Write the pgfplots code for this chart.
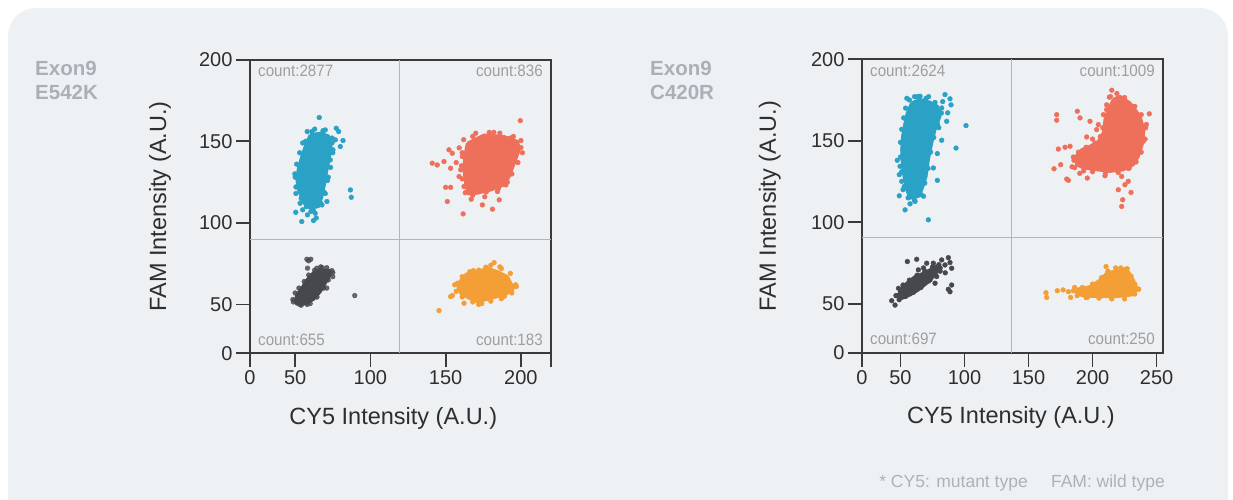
\documentclass[border=0pt]{standalone}
\usepackage{pgfplots}
\pgfplotsset{compat=1.18}
\usepackage{fontspec}
\setmainfont{Liberation Sans}
\newfontfamily\condfont[FakeStretch=0.92]{Liberation Sans}
\definecolor{panel}{HTML}{EEF1F4}
\definecolor{axc}{HTML}{3A3A3A}
\definecolor{labc}{HTML}{2E2E2E}
\definecolor{cntc}{HTML}{9E9E9E}
\definecolor{exonc}{HTML}{ABB0B8}
\definecolor{quadc}{HTML}{B5B5B5}
\definecolor{footc}{HTML}{AEB2B8}
\definecolor{cblue}{HTML}{2AA2C5}
\definecolor{cred}{HTML}{EE705B}
\definecolor{cgray}{HTML}{47484B}
\definecolor{corange}{HTML}{F49E36}

\tikzset{cnt/.style={font=\condfont\fontsize{16.5}{20}\selectfont, text=cntc, inner sep=0pt}}
\pgfplotsset{
  quadaxis/.style={
    scale only axis, width=301pt, height=293.5pt,
    ymin=20, ymax=200,
    axis line style={draw=axc, line width=1.7pt},
    every tick/.style={draw=axc, line width=1.7pt},
    major tick length=14pt,
    tick align=outside,
    xtick pos=bottom, ytick pos=left,
    ytick={20,50,100,150,200}, yticklabels={0,50,100,150,200},
    /pgf/number format/assume math mode=true,
    tick label style={font=\fontsize{20}{24}\selectfont, text=labc},
    xlabel={CY5 Intensity (A.U.)},
    ylabel={FAM Intensity (A.U.)},
    clip=true,
  },
  core/.style={draw=#1, fill=#1, line width=3pt, line join=round, mark=none},
  dots/.style={only marks, mark=*, mark size=2.4pt, color=#1, mark options={draw=#1, fill=#1}},
  quad/.style={draw=quadc, line width=0.9pt, mark=none},
}

\begin{document}
\begin{tikzpicture}
\path[use as bounding box] (0pt,0pt) rectangle (1233pt,-500pt);
\fill[white] (0pt,0pt) rectangle (1233pt,-500pt);
\begin{scope}
\clip (0pt,0pt) rectangle (1233pt,-500pt);
\fill[panel, rounded corners=28pt] (8pt,-8pt) rectangle (1228pt,-560pt);
\end{scope}

% labels
\node[anchor=base west, inner sep=0, text=exonc, font=\bfseries\fontsize{20.5}{24}\selectfont] at (35pt,-76pt) {Exon9};
\node[anchor=base west, inner sep=0, text=exonc, font=\bfseries\fontsize{20.5}{24}\selectfont] at (35pt,-100pt) {E542K};
\node[anchor=base west, inner sep=0, text=exonc, font=\bfseries\fontsize{20.5}{24}\selectfont] at (650pt,-76pt) {Exon9};
\node[anchor=base west, inner sep=0, text=exonc, font=\bfseries\fontsize{20.5}{24}\selectfont] at (650pt,-100pt) {C420R};
\node[anchor=base east, inner sep=0, text=footc, font=\fontsize{17.5}{21}\selectfont] at (1028pt,-487pt) {* CY5: mutant type};
\node[anchor=base east, inner sep=0, text=footc, font=\fontsize{17.5}{21}\selectfont] at (1165pt,-487pt) {FAM: wild type};

% ---------------- Plot 1 ----------------
\begin{axis}[quadaxis, at={(250pt,-353.3pt)}, anchor=south west,
  xmin=20, xmax=220,
  xtick={20,50,100,150,200}, xticklabels={0,50,100,150,200},
  extra x ticks={220}, extra x tick labels={}, extra x tick style={grid=none},
  every axis y label/.style={at={(axis description cs:-0.299,0.5)}, rotate=90, anchor=center, font=\fontsize{23.5}{28}\selectfont, text=labc},
  every axis x label/.style={at={(axis description cs:0.476,-0.221)}, anchor=center, font=\fontsize{23.5}{28}\selectfont, text=labc},
]
\addplot[quad] coordinates {(119,20) (119,200)};
\addplot[quad] coordinates {(20,90) (220,90)};

% blue (FAM+ / CY5-)
\addplot[core=cblue] coordinates {(60.0,154.0)(66.7,155.0)(72.2,153.3)(73.8,147.8)(72.9,140.7)(71.1,132.5)(69.6,124.3)(67.8,116.1)(65.6,110.0)(60.0,109.0)(56.0,112.0)(52.2,120.2)(51.1,127.4)(52.2,133.5)(54.4,140.7)(56.7,146.8)(60.0,154.0)};
\addplot[dots=cblue] coordinates {(58,156)(63,157.5)(68.5,156.5)(74.5,149)(75,143)(73.5,134)(71.5,126)(70,118)(67,112)(62,108)(57.5,110)(54,115)(50.5,122)(50,128)(51,136)(53,143)(55,149)};
\addplot[dots=cblue] coordinates {(66.0,164.6)(77.3,158.0)(78.9,156.0)(81.8,150.5)(80.0,146.8)(76.7,150.9)(75.1,144.8)(86.7,120.2)(87.3,115.7)(50.4,106.5)(54.4,100.8)(62.2,101.4)(58.2,104.9)(63.3,105.9)(67.8,111.0)(71.1,113.1)(53.3,112.0)(73.3,138.6)(61.1,156.0)(52.2,125.3)(74.5,152)(70,157)(57,150)(50.5,118)(55,108)(69,119)(72,128)(49.8,130)(64,103)(60.5,107)};

% red (double positive)
\addplot[core=cred] coordinates {(164.4,148.8)(175.6,153.9)(188.9,152.9)(197.8,149.9)(198.9,144.8)(195.6,136.6)(192.2,128.4)(188.9,123.3)(180.0,120.2)(171.1,118.2)(164.9,117.8)(163.3,124.3)(162.2,132.5)(162.7,140.7)(164.4,148.8)};
\addplot[dots=cred] coordinates {(162,151)(168,153)(179,155.5)(186,155)(195,153)(200,150.5)(201,143)(198,137)(194,130)(191,125)(185,121)(177,119)(168,117)(163,118.5)(161,127)(160.5,135)(161,143)};
\addplot[dots=cred] coordinates {(199.6,162.7)(141.1,136.6)(144.4,135.5)(152.2,144.8)(154.4,142.7)(148.9,137.6)(153.3,133.5)(160.0,132.5)(161.1,140.7)(158.9,128.4)(150.0,121.8)(153.3,121.8)(151.1,113.1)(161.6,105.5)(174.4,111.0)(181.1,108.4)(185.6,114.1)(190.0,123.3)(162.2,122.3)(167.8,144.8)(200.0,146.2)(184.4,119.2)(170,155)(182,155.5)(193,152)(159,146)(196,140)(176,116)(167,114.5)(157,137)};

% gray (double negative)
\addplot[core=cgray] coordinates {(50.0,51.7)(51.1,55.8)(54.4,59.9)(57.8,65.0)(62.2,69.5)(66.7,71.1)(72.9,70.7)(73.3,68.1)(70.0,63.0)(66.7,57.8)(62.2,53.1)(56.7,50.3)(51.1,50.1)(50.0,51.7)};
\addplot[dots=cgray, opacity=0.85] coordinates {(48.5,53)(50,57)(52.5,60)(56,64)(59,68)(63,71)(67,73)(71,72.5)(75,69.5)(72,65)(69,60)(64.5,54.5)(58,50)(54,49.5)};
\addplot[dots=cgray, opacity=0.8] coordinates {(57.8,77.7)(60.4,77.7)(58.9,76.7)(58.2,72.2)(89.6,55.4)(74.4,70.7)(64.4,72.2)(48.8,51.5)(53,50)(68,72.5)(75,67)(71,60)(60,50.5)};

% orange (CY5+ / FAM-)
\addplot[core=corange] coordinates {(160.0,65.0)(168.9,69.1)(177.8,72.2)(184.4,70.1)(191.1,67.0)(195.1,59.9)(191.1,56.8)(184.4,54.8)(177.8,53.1)(171.1,51.7)(165.6,53.8)(160.0,56.8)(158.2,60.5)(160.0,65.0)};
\addplot[dots=corange] coordinates {(158,63)(161,67)(166,70)(172,71)(180,74)(187,72)(193,69)(196.5,62)(194,57)(187,53.5)(180,52)(174,50.5)(168,51.5)(161,54.5)(157,58)};
\addplot[dots=corange] coordinates {(145.6,46.2)(153.3,54.8)(154.5,55.5)(182.2,75.6)(176.7,72.8)(168.4,70.7)(193.8,59.3)(162.2,50.7)(160.0,59.9)(186,73)(197,61)(156,62)(172,50)(189,55)(164,68)};

\node[cnt, anchor=base west, xshift=8pt, yshift=-17pt] at (rel axis cs:0,1) {count:2877};
\node[cnt, anchor=base east, xshift=-8pt, yshift=-17pt] at (rel axis cs:1,1) {count:836};
\node[cnt, anchor=base west, xshift=8pt, yshift=8pt] at (rel axis cs:0,0) {count:655};
\node[cnt, anchor=base east, xshift=-8pt, yshift=8pt] at (rel axis cs:1,0) {count:183};
\end{axis}

% ---------------- Plot 2 ----------------
\begin{axis}[quadaxis, at={(862pt,-352.7pt)}, anchor=south west,
  xmin=20, xmax=255,
  xtick={20,50,100,150,200,250}, xticklabels={0,50,100,150,200,250},
  every axis y label/.style={at={(axis description cs:-0.306,0.5)}, rotate=90, anchor=center, font=\fontsize{23.5}{28}\selectfont, text=labc},
  every axis x label/.style={at={(axis description cs:0.495,-0.221)}, anchor=center, font=\fontsize{23.5}{28}\selectfont, text=labc},
]
\addplot[quad] coordinates {(137,20) (137,200)};
\addplot[quad] coordinates {(20,90.5) (255,90.5)};

\addplot[core=cblue] coordinates {(58.8,173.2)(65.3,175.3)(73.1,173.6)(78.8,171.2)(80.9,165.0)(77.0,156.8)(74.4,148.6)(71.8,138.4)(70.0,128.1)(66.6,119.9)(64.0,115.8)(57.5,114.8)(54.9,119.9)(52.8,128.1)(51.5,136.3)(51.0,144.5)(51.7,152.7)(53.6,160.9)(55.4,167.1)(58.8,173.2)};
\addplot[dots=cblue] coordinates {(57,175)(63,177)(70,176)(77,173.5)(82,167)(79,160)(76,152)(73.5,143)(71.5,133)(69,124)(66,117)(61,113.5)(56,115)(53,122)(51,131)(50,140)(50,149)(51,157)(52.5,164)(54,170)};
\addplot[dots=cblue] coordinates {(65.3,177.3)(84.8,178.3)(88.7,175.7)(86.9,167.1)(82.2,170.1)(79.6,168.1)(86.1,161.9)(101.2,159.3)(93.4,145.5)(78.8,142.1)(82.2,150.3)(78.8,125.7)(69.2,129.8)(49.7,134.3)(49.1,129.2)(51.0,125.1)(49.1,116.2)(53.6,107.6)(57.5,111.3)(61.4,112.8)(65.3,122.0)(71.8,101.5)(75.7,133.3)(74.4,155.2)(89.5,172)(83,174)(76,163)(80,158)(55,176)(61,177)(72,177)(47.5,138)(52,120)(68,116)};

\addplot[core=cred] coordinates {(216.2,175.3)(221.4,177.3)(229.2,173.2)(237.0,165.0)(240.1,156.8)(239.1,148.6)(235.7,140.4)(231.8,135.3)(224.0,132.2)(213.6,131.2)(203.2,132.2)(192.8,133.3)(187.6,135.3)(187.1,140.4)(191.5,144.5)(198.0,146.6)(204.5,149.6)(208.4,154.8)(209.7,163.0)(212.3,169.1)(216.2,175.3)};
\addplot[dots=cred] coordinates {(214,177)(219,179)(225,176.5)(232,171)(238,166)(241.5,158)(241,151)(238,143)(234,137)(228,133)(220,130.5)(210,130)(200,131)(193,131.5)(186,133.5)(185.5,138)(189,143)(195,146)(202,148.5)(206,152.5)(208,158)(208.5,166)(211,172)};
\addplot[dots=cred] coordinates {(213.1,176.7)(172.0,166.0)(172.0,162.6)(188.1,168.1)(190.2,164.0)(198.0,161.9)(204.5,159.9)(195.4,152.3)(203.2,156.8)(244.3,166.5)(173.3,144.9)(178.5,146.0)(182.4,146.6)(169.9,132.8)(175.1,135.3)(179.8,126.5)(181.1,125.7)(195.9,127.1)(209.7,128.5)(222.7,128.1)(220.1,119.9)(225.3,123.0)(227.9,125.1)(230.0,118.3)(223.5,113.8)(222.7,109.7)(239.6,149.6)(228.7,133.3)(211.0,169.1)(185,140)(200,151)(206,145)(242,160)(233,171)(184,134)(190,130)(215,181)};

\addplot[core=cgray] coordinates {(48.4,54.4)(49.7,58.5)(54.9,62.6)(61.4,66.7)(67.9,68.7)(73.1,70.8)(78.3,73.2)(79.6,70.8)(75.7,66.7)(70.5,62.6)(64.0,58.5)(57.5,55.4)(51.0,53.3)(48.4,54.4)};
\addplot[dots=cgray] coordinates {(47,55)(48.5,59.5)(52,61.5)(57,64.5)(63,67.5)(69,70)(75,72.5)(80,74)(81,70)(77,68)(72,64)(66,60)(60,57)(54,54.5)(49,52.5)};
\addplot[dots=cgray] coordinates {(43.2,51.9)(45.8,49.2)(55.4,75.9)(62.7,77.3)(64.0,70.8)(82.2,76.9)(87.4,78.3)(88.7,75.3)(84.8,73.8)(90.0,71.8)(73.1,64.6)(78.3,66.7)(77.0,62.6)(87.4,58.9)(90.0,61.5)(88.7,57.4)(70.5,74.9)(75.7,74.9)(81,72)(68,72)(85,69)(46.5,55)};

\addplot[core=corange] coordinates {(187.6,58.9)(198.0,60.5)(205.8,64.6)(211.0,68.7)(218.8,70.3)(227.9,69.7)(231.8,64.6)(234.9,58.9)(230.5,55.4)(218.8,54.4)(205.8,54.4)(192.8,54.8)(187.6,56.4)(187.6,58.9)};
\addplot[dots=corange] coordinates {(186,60)(192,60)(200,62)(207,66)(212,70)(218,72)(225,71)(230,67)(233,62)(236,59)(233,56)(225,53)(215,53)(205,53.5)(195,53.8)(188,55)};
\addplot[dots=corange] coordinates {(163.6,56.8)(164.2,53.9)(172.5,58.0)(181.1,57.4)(182.9,53.9)(210.5,72.8)(235.7,58.9)(216.2,69.1)(227,71.5)(222,72)(200,62)(185,58)(177,58.5)(230,62)(196,54)};

\node[cnt, anchor=base west, xshift=8pt, yshift=-17pt] at (rel axis cs:0,1) {count:2624};
\node[cnt, anchor=base east, xshift=-8pt, yshift=-17pt] at (rel axis cs:1,1) {count:1009};
\node[cnt, anchor=base west, xshift=8pt, yshift=8pt] at (rel axis cs:0,0) {count:697};
\node[cnt, anchor=base east, xshift=-8pt, yshift=8pt] at (rel axis cs:1,0) {count:250};
\end{axis}
\end{tikzpicture}
\end{document}
